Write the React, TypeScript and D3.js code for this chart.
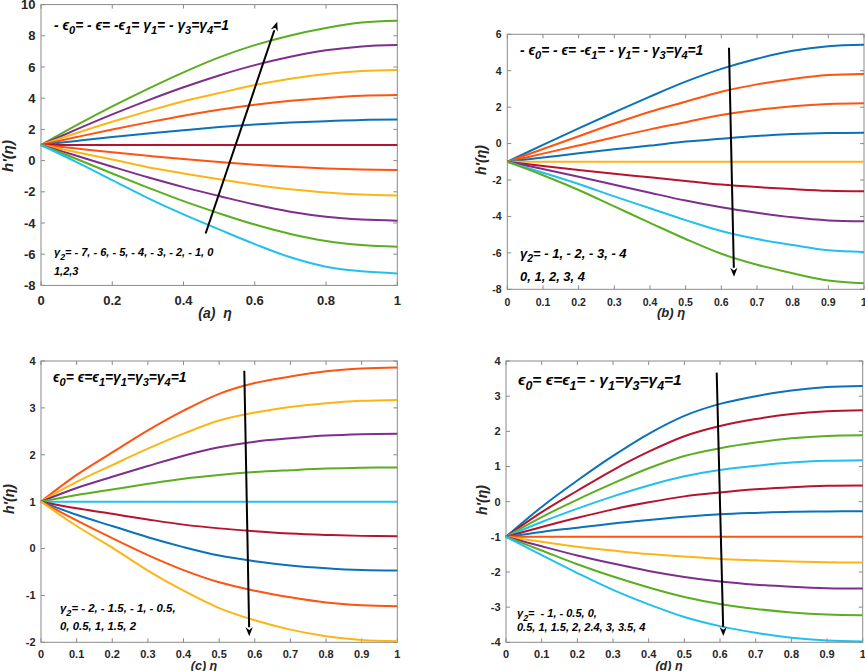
import React from "react";
import * as d3 from "d3";

// ---------- colours ----------
const GREEN = "#5aae1f";
const PURPLE = "#7e2f8e";
const YELLOW = "#fdb515";
const ORANGE = "#ff5310";
const BLUE = "#0a72ba";
const RED = "#b8132e";
const CYAN = "#22bfef";

const eta = [0, 0.1, 0.2, 0.3, 0.4, 0.5, 0.6, 0.7, 0.8, 0.9, 1];

// ---------- panel (a) ----------
const seriesA = [
  [1, 2.27, 3.47, 4.6, 5.66, 6.62, 7.4, 8.02, 8.5, 8.85, 8.97],
  [1, 2.0, 2.96, 3.86, 4.7, 5.46, 6.12, 6.66, 7.07, 7.32, 7.41],
  [1, 1.77, 2.49, 3.17, 3.81, 4.33, 4.84, 5.25, 5.55, 5.74, 5.81],
  [1, 1.51, 2.0, 2.45, 2.88, 3.26, 3.58, 3.83, 4.02, 4.16, 4.21],
  [1, 1.26, 1.51, 1.74, 1.95, 2.15, 2.31, 2.44, 2.53, 2.61, 2.63],
  [1, 1, 1, 1, 1, 1, 1, 1, 1, 1, 1],
  [1, 0.77, 0.53, 0.31, 0.1, -0.09, -0.26, -0.39, -0.5, -0.57, -0.6],
  [1, 0.54, 0.07, -0.42, -0.82, -1.2, -1.55, -1.84, -2.04, -2.17, -2.23],
  [1, 0.31, -0.39, -1.07, -1.7, -2.27, -2.82, -3.28, -3.6, -3.78, -3.85],
  [1, 0.1, -0.83, -1.73, -2.6, -3.38, -4.1, -4.7, -5.15, -5.41, -5.52],
  [1, -0.1, -1.25, -2.4, -3.45, -4.41, -5.35, -6.2, -6.8, -7.1, -7.23],
];
const colorsA = [GREEN, PURPLE, YELLOW, ORANGE, BLUE, RED, ORANGE, YELLOW, PURPLE, GREEN, CYAN];
const xTicksA = [0, 0.2, 0.4, 0.6, 0.8, 1];
const yTicksA = [-8, -6, -4, -2, 0, 2, 4, 6, 8, 10];
const arrowA = [[0.462, -4.67], [0.663, 8.9]];

// ---------- panel (b) ----------
const seriesB = [
  [-1, -0.07, 0.84, 1.72, 2.58, 3.4, 4.1, 4.66, 5.1, 5.35, 5.43],
  [-1, -0.3, 0.4, 1.1, 1.75, 2.3, 2.85, 3.25, 3.55, 3.76, 3.82],
  [-1, -0.55, -0.1, 0.35, 0.78, 1.17, 1.57, 1.85, 2.05, 2.17, 2.21],
  [-1, -0.77, -0.53, -0.31, -0.11, 0.11, 0.27, 0.42, 0.52, 0.58, 0.6],
  [-1, -1, -1, -1, -1, -1, -1, -1, -1, -1, -1],
  [-1, -1.23, -1.45, -1.66, -1.85, -2.05, -2.25, -2.39, -2.5, -2.59, -2.62],
  [-1, -1.4, -1.82, -2.26, -2.7, -3.13, -3.5, -3.8, -4.05, -4.22, -4.27],
  [-1, -1.6, -2.22, -2.9, -3.55, -4.2, -4.8, -5.24, -5.57, -5.86, -5.95],
  [-1, -1.74, -2.55, -3.45, -4.35, -5.24, -6.05, -6.65, -7.12, -7.52, -7.67],
];
const colorsB = [BLUE, ORANGE, ORANGE, BLUE, YELLOW, RED, PURPLE, CYAN, GREEN];
const xTicksB = [0, 0.1, 0.2, 0.3, 0.4, 0.5, 0.6, 0.7, 0.8, 0.9, 1];
const yTicksB = [-8, -6, -4, -2, 0, 2, 4, 6];
const arrowB = [[0.6215, 5.26], [0.6356, -7.31]];

// ---------- panel (c) ----------
const seriesC = [
  [1, 1.57, 2.05, 2.52, 2.94, 3.3, 3.53, 3.67, 3.78, 3.84, 3.86],
  [1, 1.42, 1.78, 2.13, 2.45, 2.73, 2.9, 3.02, 3.1, 3.15, 3.17],
  [1, 1.29, 1.53, 1.76, 1.98, 2.16, 2.28, 2.35, 2.41, 2.44, 2.45],
  [1, 1.14, 1.26, 1.38, 1.49, 1.57, 1.63, 1.67, 1.705, 1.724, 1.73],
  [1, 1, 1, 1, 1, 1, 1, 1, 1, 1, 1],
  [1, 0.86, 0.74, 0.62, 0.51, 0.43, 0.37, 0.32, 0.29, 0.27, 0.26],
  [1, 0.72, 0.48, 0.24, 0.03, -0.15, -0.27, -0.36, -0.42, -0.46, -0.47],
  [1, 0.6, 0.22, -0.14, -0.46, -0.72, -0.9, -1.04, -1.15, -1.21, -1.23],
  [1, 0.48, 0.02, -0.47, -0.9, -1.27, -1.53, -1.73, -1.87, -1.95, -1.98],
];
const colorsC = [ORANGE, YELLOW, PURPLE, GREEN, CYAN, RED, BLUE, ORANGE, YELLOW];
const xTicksC = [0, 0.1, 0.2, 0.3, 0.4, 0.5, 0.6, 0.7, 0.8, 0.9, 1];
const yTicksC = [-2, -1, 0, 1, 2, 3, 4];
const arrowC = [[0.5706, 3.79], [0.5846, -1.87]];

// ---------- panel (d) ----------
const seriesD = [
  [-1, -0.15, 0.6, 1.3, 1.93, 2.44, 2.78, 3.0, 3.16, 3.26, 3.29],
  [-1, -0.3, 0.31, 0.9, 1.42, 1.86, 2.15, 2.35, 2.49, 2.57, 2.6],
  [-1, -0.44, 0.06, 0.52, 0.95, 1.3, 1.52, 1.68, 1.8, 1.87, 1.89],
  [-1, -0.58, -0.2, 0.15, 0.46, 0.72, 0.9, 1.02, 1.11, 1.16, 1.18],
  [-1, -0.72, -0.46, -0.22, -0.02, 0.15, 0.26, 0.35, 0.41, 0.45, 0.46],
  [-1, -0.86, -0.74, -0.62, -0.52, -0.43, -0.36, -0.32, -0.29, -0.28, -0.27],
  [-1, -1, -1, -1, -1, -1, -1, -1, -1, -1, -1],
  [-1, -1.14, -1.28, -1.39, -1.49, -1.56, -1.63, -1.67, -1.705, -1.724, -1.73],
  [-1, -1.27, -1.53, -1.76, -1.97, -2.14, -2.27, -2.36, -2.42, -2.46, -2.47],
  [-1, -1.39, -1.78, -2.13, -2.44, -2.71, -2.91, -3.05, -3.15, -3.21, -3.23],
  [-1, -1.52, -2.03, -2.51, -2.92, -3.28, -3.54, -3.73, -3.87, -3.95, -3.98],
];
const colorsD = [BLUE, RED, GREEN, CYAN, RED, BLUE, ORANGE, YELLOW, PURPLE, GREEN, CYAN];
const xTicksD = [0, 0.1, 0.2, 0.3, 0.4, 0.5, 0.6, 0.7, 0.8, 0.9, 1];
const yTicksD = [-4, -3, -2, -1, 0, 1, 2, 3, 4];
const arrowD = [[0.5907, 3.67], [0.6094, -3.82]];

// ---------- texts ----------
type Seg = [string, boolean];
const condA: Seg[] = [["- ϵ", false], ["0", true], ["= - ϵ= -ϵ", false], ["1", true], ["= γ", false], ["1", true], ["= - γ", false], ["3", true], ["=γ", false], ["4", true], ["=1", false]];
const condB: Seg[] = [["- ϵ", false], ["0", true], ["= - ϵ= -ϵ", false], ["1", true], ["= - γ", false], ["1", true], ["= - γ", false], ["3", true], ["=γ", false], ["4", true], ["=1", false]];
const condC: Seg[] = [["ϵ", false], ["0", true], ["= ϵ=ϵ", false], ["1", true], ["=γ", false], ["1", true], ["=γ", false], ["3", true], ["=γ", false], ["4", true], ["=1", false]];
const condD: Seg[] = [["ϵ", false], ["0", true], ["= ϵ=ϵ", false], ["1", true], ["= - γ", false], ["1", true], ["=γ", false], ["3", true], ["=γ", false], ["4", true], ["=1", false]];
const gammaA: [Seg[], string] = [[["γ", false], ["2", true], ["= - 7, - 6, - 5, - 4, - 3, - 2, - 1, 0", false]], "1,2,3"];
const gammaB: [Seg[], string] = [[["γ", false], ["2", true], ["= - 1, - 2, - 3, - 4", false]], "0, 1, 2, 3, 4"];
const gammaC: [Seg[], string] = [[["γ", false], ["2", true], ["= - 2, - 1.5, - 1, - 0.5,", false]], "0, 0.5, 1, 1.5, 2"];
const gammaD: [Seg[], string] = [[["γ", false], ["2", true], ["=  - 1, - 0.5, 0,", false]], "0.5, 1, 1.5, 2, 2.4, 3, 3.5, 4"];

const FONT = "'Liberation Sans', Arial, Helvetica, sans-serif";

function SegText({ segs, x, y, fs }: { segs: Seg[]; x: number; y: number; fs: number }) {
  const off = fs * 0.32;
  const out: React.ReactNode[] = [];
  let down = false;
  segs.forEach(([t, sub], i) => {
    let dy = 0;
    if (sub && !down) { dy = off; down = true; }
    else if (!sub && down) { dy = -off; down = false; }
    out.push(
      <tspan key={i} dy={dy} fontSize={sub ? fs * 0.8 : fs}>{t}</tspan>
    );
  });
  return (
    <text x={x} y={y} fontFamily={FONT} fontWeight="bold" fontStyle="italic" fill="#000" style={{ whiteSpace: "pre" }}>
      {out}
    </text>
  );
}

interface PanelProps {
  series: number[][];
  colors: string[];
  xTicks: number[];
  yTicks: number[];
  yDomain: [number, number];
  box: [number, number, number, number];
  tickFs: number;
  xTickBase: number;
  yTickRight: number;
  xLabel: string;
  xLabelPos: [number, number, number];
  yLabelPos: [number, number, number];
  arrow: number[][];
  cond: Seg[];
  condPos: [number, number, number];
  gamma: [Seg[], string];
  gammaPos: [number, number, number, number];
}

function Panel(p: PanelProps) {
  const [l, r, t, b] = p.box;
  const x = d3.scaleLinear().domain([0, 1]).range([l, r]);
  const y = d3.scaleLinear().domain(p.yDomain).range([b, t]);
  const line = d3.line<number>()
    .x((_, i) => x(eta[i]))
    .y((d) => y(d))
    .curve(d3.curveCatmullRom.alpha(0.5));
  const axisCol = "#8a8a8a";
  const tl = 4;
  const [a0, a1] = p.arrow;
  const ax0 = x(a0[0]), ay0 = y(a0[1]), ax1 = x(a1[0]), ay1 = y(a1[1]);
  const ang = Math.atan2(ay1 - ay0, ax1 - ax0);
  const hl = 9, hw = 3.6;
  const bx = ax1 - hl * Math.cos(ang), by = ay1 - hl * Math.sin(ang);
  const head = [
    [ax1, ay1],
    [bx + hw * Math.sin(ang), by - hw * Math.cos(ang)],
    [ax1 - hl * 0.7 * Math.cos(ang), ay1 - hl * 0.7 * Math.sin(ang)],
    [bx - hw * Math.sin(ang), by + hw * Math.cos(ang)],
  ].map((q) => q.join(",")).join(" ");
  const fmt = (v: number) => (v < 0 ? "-" + Math.abs(v) : String(v));
  return (
    <g>
      <rect x={l} y={t} width={r - l} height={b - t} fill="#fff" stroke={axisCol} strokeWidth={1} />
      {p.xTicks.map((v) => (
        <g key={"xt" + v}>
          <line x1={x(v)} x2={x(v)} y1={b} y2={b - tl} stroke={axisCol} />
          <line x1={x(v)} x2={x(v)} y1={t} y2={t + tl} stroke={axisCol} />
          <text x={x(v)} y={p.xTickBase} textAnchor="middle" fontFamily={FONT} fontWeight="bold" fontSize={p.tickFs} fill="#262626">{fmt(v)}</text>
        </g>
      ))}
      {p.yTicks.map((v) => (
        <g key={"yt" + v}>
          <line x1={l} x2={l + tl} y1={y(v)} y2={y(v)} stroke={axisCol} />
          <line x1={r} x2={r - tl} y1={y(v)} y2={y(v)} stroke={axisCol} />
          <text x={p.yTickRight} y={y(v)} dy="0.36em" textAnchor="end" fontFamily={FONT} fontWeight="bold" fontSize={p.tickFs} fill="#262626">{fmt(v)}</text>
        </g>
      ))}
      {p.series.map((s, i) => (
        <path key={"s" + i} d={line(s) || ""} fill="none" stroke={p.colors[i]} strokeWidth={2} />
      ))}
      <line x1={ax0} y1={ay0} x2={bx} y2={by} stroke="#000" strokeWidth={2} />
      <polygon points={head} fill="#000" />
      <SegText segs={p.cond} x={p.condPos[0]} y={p.condPos[1]} fs={p.condPos[2]} />
      <SegText segs={p.gamma[0]} x={p.gammaPos[0]} y={p.gammaPos[1]} fs={p.gammaPos[3]} />
      <text x={p.gammaPos[0]} y={p.gammaPos[2]} fontFamily={FONT} fontWeight="bold" fontStyle="italic" fontSize={p.gammaPos[3]}>{p.gamma[1]}</text>
      <text x={p.xLabelPos[0]} y={p.xLabelPos[1]} textAnchor="middle" fontFamily={FONT} fontWeight="bold" fontStyle="italic" fontSize={p.xLabelPos[2]} fill="#262626" style={{ whiteSpace: "pre" }}>{p.xLabel}</text>
      <text transform={`translate(${p.yLabelPos[0]},${p.yLabelPos[1]}) rotate(-90)`} textAnchor="middle" dy="0.35em" fontFamily={FONT} fontWeight="bold" fontStyle="italic" fontSize={p.yLabelPos[2]} fill="#262626">h'(η)</text>
    </g>
  );
}

export default function App() {
  return (
    <svg width={865} height={671} style={{ position: "absolute", left: 0, top: 0, background: "#fff" }}>
      <rect width={865} height={671} fill="#fff" />
      <Panel series={seriesA} colors={colorsA} xTicks={xTicksA} yTicks={yTicksA} yDomain={[-8, 10]}
        box={[41, 397.3, 4.6, 285.4]} tickFs={13} xTickBase={305} yTickRight={35.5}
        xLabel="(a)  η" xLabelPos={[215, 318, 14]} yLabelPos={[8, 156, 15]} arrow={arrowA}
        cond={condA} condPos={[54, 30, 13.8]} gamma={gammaA} gammaPos={[54, 256, 275, 11]} />
      <Panel series={seriesB} colors={colorsB} xTicks={xTicksB} yTicks={yTicksB} yDomain={[-8, 6]}
        box={[507.3, 864, 34.3, 289.3]} tickFs={10.5} xTickBase={305.5} yTickRight={501.5}
        xLabel="(b) η" xLabelPos={[671, 317, 13]} yLabelPos={[481, 160, 14]} arrow={arrowB}
        cond={condB} condPos={[520, 55, 13.8]} gamma={gammaB} gammaPos={[520, 258, 281, 13]} />
      <Panel series={seriesC} colors={colorsC} xTicks={xTicksC} yTicks={yTicksC} yDomain={[-2, 4]}
        box={[41, 397.3, 361, 642.3]} tickFs={11} xTickBase={658.3} yTickRight={35.5}
        xLabel="(c) η" xLabelPos={[204, 669.5, 12.5]} yLabelPos={[9, 499, 14]} arrow={arrowC}
        cond={condC} condPos={[53, 382, 13.8]} gamma={gammaC} gammaPos={[60, 612, 629.5, 11.4]} />
      <Panel series={seriesD} colors={colorsD} xTicks={xTicksD} yTicks={yTicksD} yDomain={[-4, 4]}
        box={[506, 862.7, 361, 642.3]} tickFs={11} xTickBase={658.3} yTickRight={500.5}
        xLabel="(d) η" xLabelPos={[669, 669.5, 12.5]} yLabelPos={[482, 500, 14]} arrow={arrowD}
        cond={condD} condPos={[518, 385, 15.5]} gamma={gammaD} gammaPos={[517, 617, 631, 11]} />
    </svg>
  );
}
